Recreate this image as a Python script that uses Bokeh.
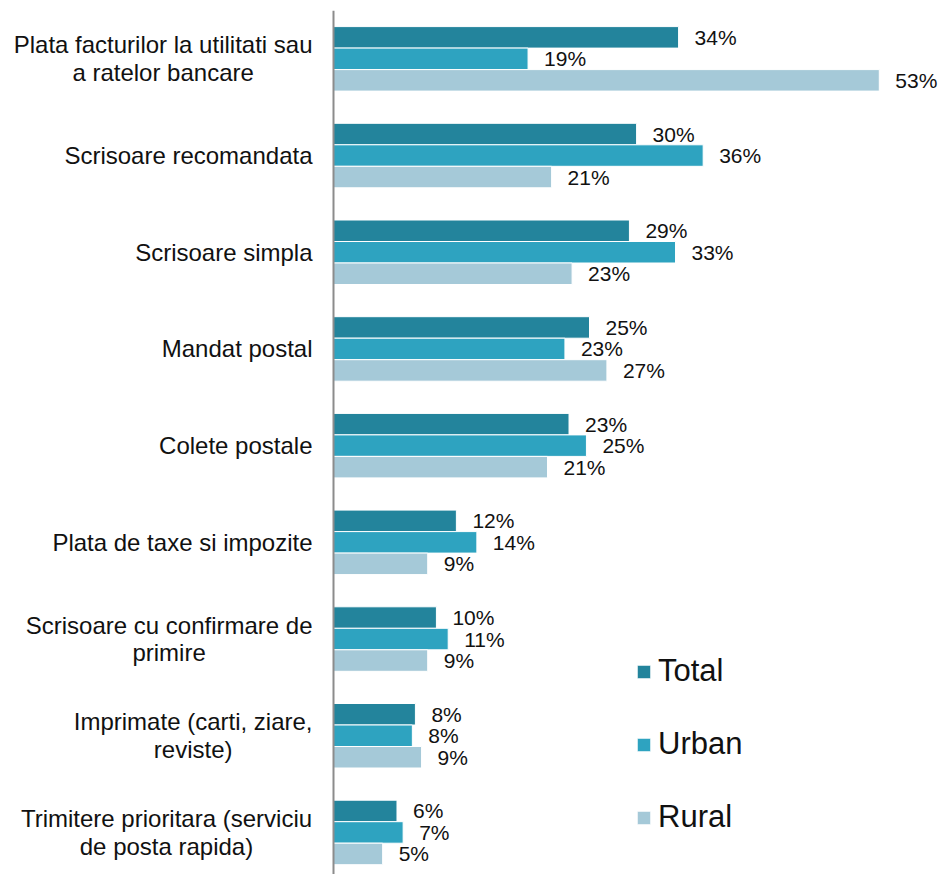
from bokeh.plotting import figure
from bokeh.models import ColumnDataSource, Range1d, Span, Legend, LegendItem
from bokeh.transform import dodge
from bokeh.core.properties import value
from bokeh.embed import file_html
from bokeh.resources import INLINE

# ---------------- data ----------------
categories = [
    "Plata facturilor la utilitati sau\na ratelor bancare",
    "Scrisoare recomandata",
    "Scrisoare simpla",
    "Mandat postal",
    "Colete postale",
    "Plata de taxe si impozite",
    "Scrisoare cu confirmare de\nprimire",
    "Imprimate (carti, ziare,\nreviste)",
    "Trimitere prioritara (serviciu\nde posta rapida)",
]
total = [33.7, 29.6, 28.9, 25.0, 23.0, 12.0, 10.05, 8.0, 6.2]
urban = [19.0, 36.1, 33.4, 22.6, 24.7, 14.0, 11.2, 7.7, 6.8]
rural = [53.3, 21.3, 23.3, 26.7, 20.9, 9.2, 9.2, 8.6, 4.8]
series_names = ["Total", "Urban", "Rural"]
colors = ["#23849C", "#2EA3C0", "#A5C9D8"]

# ---------------- layout ----------------
FONT = "Liberation Sans"
W, H = 939, 874
TOP = 10
PX_PER_UNIT = 10.24
AXIS_X = 333           # canvas px of the value axis
SLOT = 96.7            # px per category
BAR = 21.5 / SLOT      # bar thickness in category units

x_start = -AXIS_X / PX_PER_UNIT
x_end = (W - AXIS_X) / PX_PER_UNIT
y_top = -0.5
y_bottom = y_top + (H - TOP) / SLOT

p = figure(width=W, height=H,
           x_range=Range1d(x_start, x_end), y_range=Range1d(y_bottom, y_top),
           x_axis_location=None, y_axis_location=None,
           output_backend="svg", toolbar_location=None,
           min_border_left=0, min_border_right=0, min_border_top=TOP, min_border_bottom=0,
           outline_line_color=None)
p.grid.visible = False

data = dict(y=list(range(len(categories))), cat=categories)
for name, vals in zip(series_names, [total, urban, rural]):
    data[name] = vals
    data[name + "_lbl"] = [f"{round(v)}%" for v in vals]
src = ColumnDataSource(data)

renderers = []
for j, name in enumerate(series_names):
    off = (j - 1) * BAR
    r = p.hbar(y=dodge("y", off), left=0, right=name, height=BAR,
               fill_color=colors[j], line_color="white", line_width=1, source=src)
    renderers.append(r)
    p.text(x=name, y=dodge("y", off), text=name + "_lbl", x_offset=16,
           text_align="left", text_baseline="middle",
           text_font=value(FONT), text_font_size="21px", text_color="#111111",
           source=src)

# category labels: block right-aligned next to the axis, lines centred
ARIAL = {'a': 556, 'b': 556, 'c': 500, 'd': 556, 'e': 556, 'f': 278, 'g': 556, 'h': 556,
         'i': 222, 'j': 222, 'k': 500, 'l': 222, 'm': 833, 'n': 556, 'o': 556, 'p': 556,
         'q': 556, 'r': 333, 's': 500, 't': 278, 'u': 556, 'v': 500, 'w': 722, 'x': 500,
         'y': 500, 'z': 500, ' ': 278, '(': 333, ')': 333, ',': 278, 'P': 667, 'S': 667,
         'M': 833, 'C': 722, 'I': 278, 'T': 611}
CAT_FS = 24
GAP = 21


def text_width(s):
    return max(sum(ARIAL.get(ch, 556) for ch in line) for line in s.split("\n")) * CAT_FS / 1000


cat_src = ColumnDataSource(dict(
    y=list(range(len(categories))),
    text=categories,
    xo=[-(GAP + text_width(c) / 2) for c in categories],
))
p.text(x=0, y="y", text="text", x_offset="xo", text_align="center", text_baseline="middle",
       text_font=value(FONT), text_font_size=f"{CAT_FS}px", text_color="#111111",
       text_line_height=1.03, source=cat_src)

p.add_layout(Span(location=0, dimension="height", line_color="#8c8c8c", line_width=2))

legend = Legend(items=[LegendItem(label=n, renderers=[r]) for n, r in zip(series_names, renderers)],
                location=(635, 39), orientation="vertical",
                glyph_width=17, glyph_height=17, label_standoff=6,
                label_text_font=FONT, label_text_font_size="31px", label_text_color="#111111",
                spacing=37, padding=0, margin=0,
                border_line_color=None, background_fill_alpha=0)
p.add_layout(legend)

open("out.html", "w").write(file_html(p, INLINE))
